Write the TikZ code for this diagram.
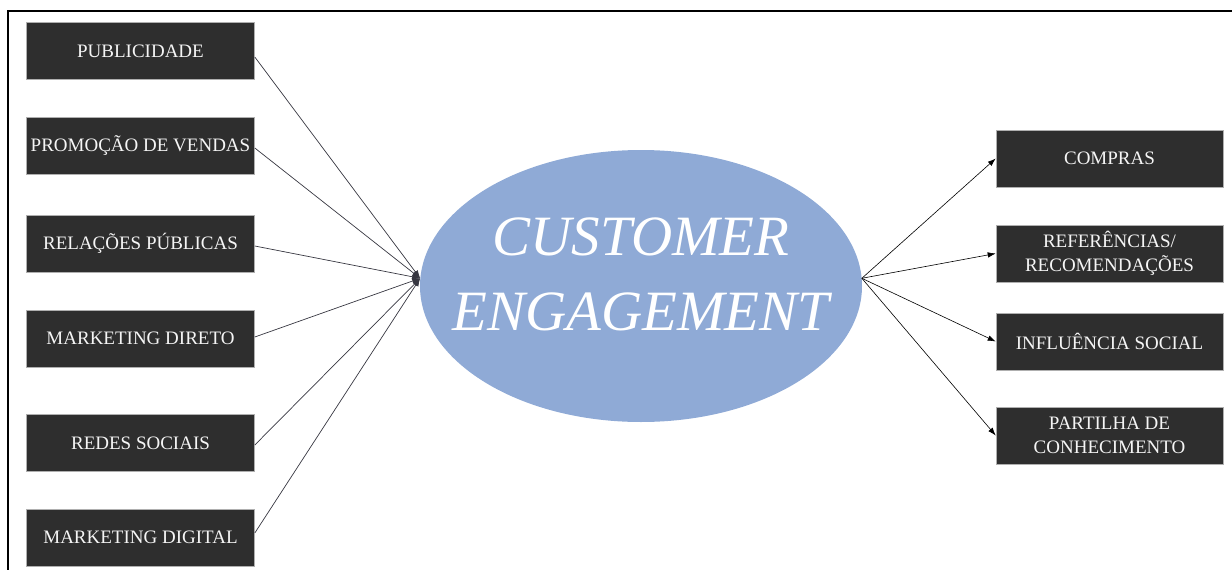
\documentclass[tikz,border=0pt]{standalone}
\usepackage{fontspec}
\setmainfont{Liberation Serif}
\usetikzlibrary{shapes.geometric,arrows.meta}
\definecolor{boxfill}{RGB}{46,46,46}
\definecolor{boxline}{RGB}{175,175,175}
\definecolor{ellfill}{RGB}{143,170,214}
\definecolor{linkgray}{RGB}{55,55,65}
\definecolor{labelwhite}{RGB}{245,245,245}
\begin{document}
\begin{tikzpicture}[x=1pt,y=-1pt,
  itembox/.style={draw=boxline, line width=0.6pt, fill=boxfill, text=labelwhite,
    minimum width=228pt, minimum height=57pt, inner sep=0pt,
    font=\fontsize{19}{24}\selectfont, align=center},
  inlink/.style={draw=linkgray, line width=0.7pt, -{Latex[length=8pt,width=6pt]}},
  outlink/.style={draw=black, line width=0.6pt, -{Latex[length=8pt,width=5.5pt]}}]
\useasboundingbox (0,0) rectangle (1232,570);
% outer frame (top and left edges)
\draw[line width=2pt] (8,571) -- (8,11) -- (1233,11);

% central ellipse and its title
\node[ellipse, fill=ellfill, minimum width=442pt, minimum height=272pt, inner sep=0pt] (ce) at (641,286) {};
\node[text=white, font=\fontsize{57}{75}\selectfont\itshape, align=center, inner sep=0pt] (cetitle) at (641,274) {CUSTOMER\\ENGAGEMENT};

% communication tools (inputs)
\node[itembox] (b1) at (140.5,51) {PUBLICIDADE};
\node[itembox] (b2) at (140.5,145.5) {PROMOÇÃO DE VENDAS};
\node[itembox] (b3) at (140.5,243.5) {RELAÇÕES PÚBLICAS};
\node[itembox] (b4) at (140.5,338.5) {MARKETING DIRETO};
\node[itembox] (b5) at (140.5,443) {REDES SOCIAIS};
\node[itembox] (b6) at (140.5,537.5) {MARKETING DIGITAL};

% engagement outcomes
\node[itembox, minimum width=227pt] (c1) at (1109.5,158.5) {COMPRAS};
\node[itembox, minimum width=227pt] (c2) at (1109.5,253.5) {REFERÊNCIAS/\\RECOMENDAÇÕES};
\node[itembox, minimum width=227pt] (c3) at (1109.5,341.5) {INFLUÊNCIA SOCIAL};
\node[itembox, minimum width=227pt] (c4) at (1109.5,435.5) {PARTILHA DE\\CONHECIMENTO};

% links into the ellipse (each leaves its box slightly off-centre)
\foreach \b/\dy in {b1/6,b2/2.5,b3/2.5,b4/-1.5,b5/2,b6/-4.5}
  \draw[inlink] ([yshift=-\dy pt]\b.east) -- (ce.178);

% links out of the ellipse
\foreach \c in {c1,c2,c3,c4}
  \draw[outlink] (ce.2) -- (\c.west);
\end{tikzpicture}
\end{document}
